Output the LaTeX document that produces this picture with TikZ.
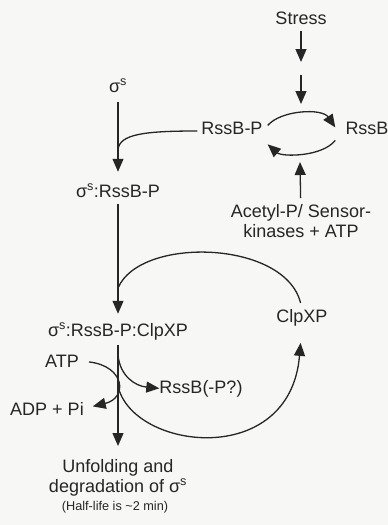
\documentclass[tikz,border=0pt]{standalone}
\usepackage{fontspec}
\setmainfont{Liberation Sans}
\usetikzlibrary{arrows.meta,calc}
\definecolor{ink}{HTML}{262626}
\definecolor{paper}{HTML}{F7F7F5}
\begin{document}
\begin{tikzpicture}[x=1pt, y=-1pt, font=\fontsize{18}{20}\selectfont,
      >={Triangle[length=13pt,width=11pt]},
      lbl/.style={inner sep=0pt, anchor=base, text=ink},
      txt/.style={inner sep=0pt, anchor=north, text=ink, align=center},
      con/.style={draw=ink, line width=1.3pt},
      small/.style={font=\fontsize{12.7}{14}\selectfont}]
    \fill[paper] (0,0) rectangle (388,525);
    \useasboundingbox (0,0) rectangle (388,525);
    \node[lbl] (stress) at (301,24) {Stress};
    \node[lbl] (sig) at (118,92) {σ\textsuperscript{s}};
    \node[lbl] (rssbp) at (232,134) {RssB-P};
    \node[lbl] (rssb) at (367,134) {RssB};
    \node[lbl] (sigrssb) at (118,197) {σ\textsuperscript{s}:RssB-P};
    \node[txt] (acetyl) at (301,204) {Acetyl-P/ Sensor-\\kinases + ATP};
    \node[lbl] (clpxp) at (302,322) {ClpXP};
    \node[lbl] (cplx) at (118,336) {σ\textsuperscript{s}:RssB-P:ClpXP};
    \node[lbl] (atp) at (62,367) {ATP};
    \node[lbl] (rssbq) at (201,393) {RssB(-P?)};
    \node[lbl] (adp) at (47,415) {ADP + Pi};
    \node[txt] (unfold) at (118,459) {Unfolding and\\degradation of σ\textsuperscript{s}};
    \node[lbl, small] (half) at (115,510) {(Half-life is \textasciitilde 2 min)};
    \coordinate (s1) at (301,62);
    \coordinate (s2) at (301,75);
    \coordinate (cyctop) at (301,104);
    \coordinate (cycbot) at (300,162);
    \coordinate (j1) at (118,150);
    \coordinate (j2) at (118,288);
    \coordinate (b1) at (118,355);
    \coordinate (b2) at (118,386);
    \draw[con, ->, shorten <=7pt] (stress) -- (s1);
    \draw[con, ->] (s2) -- (cyctop);
    \draw[con, ->, shorten <=6pt] (acetyl) -- (cycbot);
    \draw[con, ->] ($(rssbp.north east)+(5,4)$) .. controls (281,110) and (322,108) .. ($(rssb.north west)+(-10,6)$);
    \draw[con, ->] ($(rssb.south west)+(-10,6)$) .. controls (322,157) and (282,157) .. ($(rssbp.south east)+(5,10)$);
    \draw[con] ($(rssbp.base west)+(-4,-3)$) .. controls (145,131) and (119,134) .. (j1);
    \draw[con, ->, shorten <=10pt, shorten >=12pt] (sig) -- (sigrssb);
    \draw[con, ->, shorten <=7pt, shorten >=9pt] (sigrssb) -- (cplx);
    \draw[con, shorten <=6pt] (clpxp.north) .. controls (285,240) and (140,236) .. (j2);
    \draw[con, ->, shorten <=5pt, shorten >=13pt] (cplx) -- (unfold);
    \draw[con, ->] (b1) .. controls (120,376) and (135,386) .. (rssbq.west);
    \draw[con, ->, shorten <=10pt, shorten >=9pt] (atp.east) .. controls (125,366) and (128,398) .. (adp.east);
    \draw[con, ->, shorten >=17pt] (b2) .. controls (132,450) and (290,470) .. (clpxp.south);
\end{tikzpicture}
\end{document}
